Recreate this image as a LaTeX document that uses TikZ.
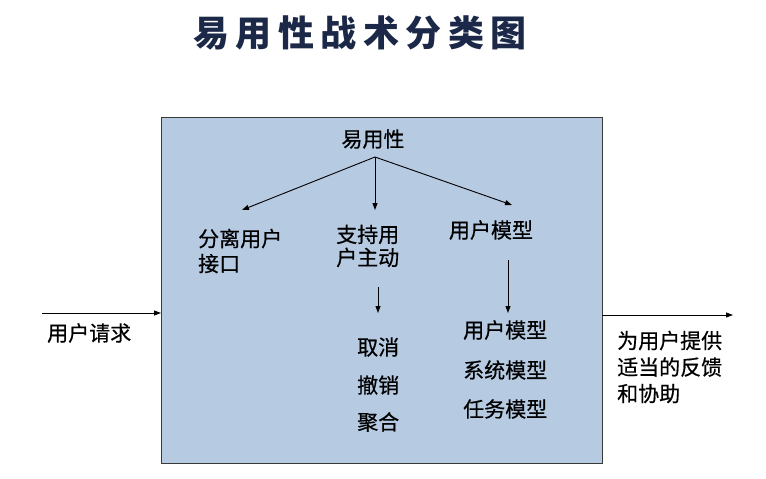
\documentclass[tikz,border=0pt]{standalone}
\usepackage{fontspec}
\newfontfamily\cjk{Noto Sans CJK SC}
\newfontfamily\cjkb{Noto Sans CJK SC}[FakeBold=0.6]
\usetikzlibrary{arrows.meta}
\definecolor{boxblue}{HTML}{B6CAE2}
\definecolor{titlenavy}{HTML}{1C2847}
\definecolor{framegray}{HTML}{3A3A3A}
\tikzset{
  lbl/.style={font=\cjkb\fontsize{21pt}{26pt}\selectfont, inner sep=0pt, text=black},
  lblleft/.style={lbl, anchor=west, align=left},
  conn/.style={draw=black, line width=0.9pt, -{Triangle[length=7pt,width=5pt]}},
}
\newcommand{\tsp}{\hspace{6.5pt}}
\begin{document}
\begin{tikzpicture}[x=1pt,y=-1pt]
\useasboundingbox (0,0) rectangle (766,479);
\node[inner sep=0pt, text=titlenavy, font=\cjk\bfseries\fontsize{36pt}{40pt}\selectfont] (title) at (360,33)
  {易\tsp 用\tsp 性\tsp 战\tsp 术\tsp 分\tsp 类\tsp 图};
\draw[framegray, line width=0.8pt, fill=boxblue] (161,117) rectangle (602,463);
\node[lbl] (root) at (373,139) {易用性};
\coordinate (rootb) at (375,157);
\node[lbl, anchor=west, align=left, font=\cjkb\fontsize{21pt}{25pt}\selectfont] (sep) at (198,251) {分离用户\\接口};
\node[lbl, anchor=west, align=left, font=\cjkb\fontsize{21pt}{23pt}\selectfont] (sup) at (336,246) {支持用\\户主动};
\node[lbl] (um) at (491,230) {用户模型};
\draw[conn] (rootb) -- (242,210);
\draw[conn] (rootb) -- (375,210);
\draw[conn] (rootb) -- (512,205);
\coordinate (supb) at (378,287);
\coordinate (umb) at (508,260);
\node[lblleft] (cancel) at (357,347) {取消};
\node[lblleft] (undo) at (357,385) {撤销};
\node[lblleft] (agg) at (357,422) {聚合};
\node[lblleft] (m1) at (463,330) {用户模型};
\node[lblleft] (m2) at (463,370) {系统模型};
\node[lblleft] (m3) at (463,409) {任务模型};
\draw[conn] (supb) -- (378,313);
\draw[conn] (umb) -- (508,313);
\coordinate (inl) at (42,313);
\coordinate (inr) at (161,313);
\draw[conn] (inl) -- (inr);
\node[lblleft] (req) at (47,333) {用户请求};
\coordinate (outl) at (602,315);
\coordinate (outr) at (733,315);
\draw[conn] (outl) -- (outr);
\node[lblleft, font=\cjkb\fontsize{21pt}{26.5pt}\selectfont] (fb) at (617,367) {为用户提供\\适当的反馈\\和协助};
\end{tikzpicture}
\end{document}
